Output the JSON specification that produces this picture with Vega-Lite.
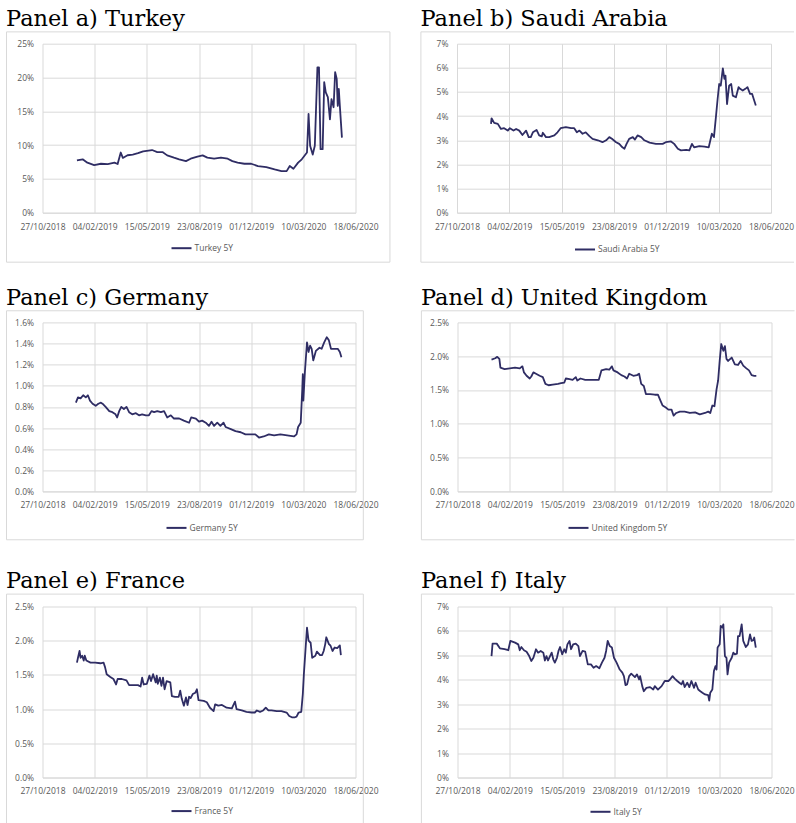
{
"$schema":"https://vega.github.io/schema/vega-lite/v6.json",
"padding":{"left":5.5,"top":7.7,"right":0,"bottom":0},
"background":"white",
"datasets":{
"tr":[
{"date":"2019-01-01","value":0.0774},{"date":"2019-01-12","value":0.079},{"date":"2019-01-21","value":0.074},{"date":"2019-02-03","value":0.0705},{"date":"2019-02-16","value":0.0724},{"date":"2019-03-01","value":0.072},{"date":"2019-03-14","value":0.074},{"date":"2019-03-20","value":0.072},{"date":"2019-03-26","value":0.089},{"date":"2019-03-30","value":0.081},{"date":"2019-04-08","value":0.085},{"date":"2019-04-18","value":0.086},{"date":"2019-04-28","value":0.088},{"date":"2019-05-08","value":0.0907},{"date":"2019-05-25","value":0.0927},{"date":"2019-06-04","value":0.0897},{"date":"2019-06-14","value":0.0897},{"date":"2019-06-23","value":0.0848},{"date":"2019-07-06","value":0.0814},{"date":"2019-07-16","value":0.079},{"date":"2019-07-29","value":0.0763},{"date":"2019-08-07","value":0.0799},{"date":"2019-08-20","value":0.0829},{"date":"2019-08-30","value":0.0848},{"date":"2019-09-08","value":0.0814},{"date":"2019-09-21","value":0.0799},{"date":"2019-10-04","value":0.0814},{"date":"2019-10-17","value":0.0799},{"date":"2019-10-26","value":0.0763},{"date":"2019-11-05","value":0.074},{"date":"2019-11-18","value":0.0724},{"date":"2019-12-01","value":0.0724},{"date":"2019-12-14","value":0.069},{"date":"2019-12-30","value":0.0674},{"date":"2020-01-15","value":0.064},{"date":"2020-01-28","value":0.0615},{"date":"2020-02-07","value":0.0615},{"date":"2020-02-13","value":0.069},{"date":"2020-02-20","value":0.065},{"date":"2020-02-29","value":0.074},{"date":"2020-03-07","value":0.079},{"date":"2020-03-17","value":0.089},{"date":"2020-03-20","value":0.146},{"date":"2020-03-23","value":0.099},{"date":"2020-03-28","value":0.086},{"date":"2020-04-01","value":0.099},{"date":"2020-04-06","value":0.215},{"date":"2020-04-09","value":0.215},{"date":"2020-04-12","value":0.094},{"date":"2020-04-16","value":0.094},{"date":"2020-04-19","value":0.193},{"date":"2020-04-22","value":0.178},{"date":"2020-04-26","value":0.171},{"date":"2020-04-30","value":0.138},{"date":"2020-05-03","value":0.168},{"date":"2020-05-07","value":0.156},{"date":"2020-05-10","value":0.208},{"date":"2020-05-13","value":0.198},{"date":"2020-05-15","value":0.158},{"date":"2020-05-17","value":0.183},{"date":"2020-05-19","value":0.158},{"date":"2020-05-23","value":0.111}
],
"sa":[
{"date":"2018-12-31","value":0.0368},{"date":"2019-01-01","value":0.0391},{"date":"2019-01-06","value":0.0372},{"date":"2019-01-13","value":0.0368},{"date":"2019-01-19","value":0.0347},{"date":"2019-01-25","value":0.035},{"date":"2019-02-01","value":0.034},{"date":"2019-02-05","value":0.035},{"date":"2019-02-12","value":0.034},{"date":"2019-02-17","value":0.0347},{"date":"2019-02-23","value":0.034},{"date":"2019-03-01","value":0.0322},{"date":"2019-03-08","value":0.034},{"date":"2019-03-13","value":0.0313},{"date":"2019-03-17","value":0.0313},{"date":"2019-03-21","value":0.0333},{"date":"2019-03-28","value":0.0343},{"date":"2019-04-02","value":0.032},{"date":"2019-04-07","value":0.0316},{"date":"2019-04-09","value":0.0331},{"date":"2019-04-15","value":0.0313},{"date":"2019-04-21","value":0.0313},{"date":"2019-05-01","value":0.032},{"date":"2019-05-07","value":0.0333},{"date":"2019-05-13","value":0.035},{"date":"2019-05-23","value":0.0354},{"date":"2019-06-02","value":0.035},{"date":"2019-06-08","value":0.035},{"date":"2019-06-13","value":0.0333},{"date":"2019-06-18","value":0.034},{"date":"2019-06-24","value":0.0327},{"date":"2019-06-30","value":0.0333},{"date":"2019-07-07","value":0.0317},{"date":"2019-07-13","value":0.0306},{"date":"2019-07-23","value":0.03},{"date":"2019-08-01","value":0.0292},{"date":"2019-08-08","value":0.03},{"date":"2019-08-14","value":0.0313},{"date":"2019-08-19","value":0.0306},{"date":"2019-08-27","value":0.0292},{"date":"2019-09-02","value":0.0285},{"date":"2019-09-08","value":0.0271},{"date":"2019-09-12","value":0.0265},{"date":"2019-09-16","value":0.0285},{"date":"2019-09-21","value":0.0306},{"date":"2019-09-28","value":0.0313},{"date":"2019-10-02","value":0.0303},{"date":"2019-10-07","value":0.032},{"date":"2019-10-14","value":0.0313},{"date":"2019-10-20","value":0.03},{"date":"2019-10-30","value":0.029},{"date":"2019-11-11","value":0.0285},{"date":"2019-11-24","value":0.0285},{"date":"2019-11-30","value":0.0292},{"date":"2019-12-10","value":0.0295},{"date":"2019-12-16","value":0.0285},{"date":"2019-12-23","value":0.0265},{"date":"2019-12-29","value":0.0258},{"date":"2020-01-08","value":0.026},{"date":"2020-01-14","value":0.0258},{"date":"2020-01-19","value":0.0285},{"date":"2020-01-23","value":0.0271},{"date":"2020-02-02","value":0.0276},{"date":"2020-02-12","value":0.0274},{"date":"2020-02-20","value":0.0271},{"date":"2020-02-26","value":0.0327},{"date":"2020-03-01","value":0.0313},{"date":"2020-03-05","value":0.0402},{"date":"2020-03-08","value":0.0471},{"date":"2020-03-11","value":0.0533},{"date":"2020-03-14","value":0.0526},{"date":"2020-03-18","value":0.0598},{"date":"2020-03-21","value":0.0554},{"date":"2020-03-23","value":0.0568},{"date":"2020-03-26","value":0.045},{"date":"2020-03-30","value":0.0526},{"date":"2020-04-03","value":0.0533},{"date":"2020-04-06","value":0.0485},{"date":"2020-04-12","value":0.0478},{"date":"2020-04-17","value":0.052},{"date":"2020-04-20","value":0.0513},{"date":"2020-04-25","value":0.0506},{"date":"2020-04-30","value":0.0513},{"date":"2020-05-04","value":0.052},{"date":"2020-05-09","value":0.0492},{"date":"2020-05-13","value":0.0492},{"date":"2020-05-16","value":0.0471},{"date":"2020-05-20","value":0.0444}
],
"de":[
{"date":"2018-12-30","value":0.0084},{"date":"2019-01-03","value":0.0089},{"date":"2019-01-08","value":0.0088},{"date":"2019-01-13","value":0.0091},{"date":"2019-01-18","value":0.0089},{"date":"2019-01-22","value":0.0091},{"date":"2019-01-26","value":0.0086},{"date":"2019-01-31","value":0.0083},{"date":"2019-02-06","value":0.0081},{"date":"2019-02-11","value":0.0083},{"date":"2019-02-16","value":0.0084},{"date":"2019-02-19","value":0.0083},{"date":"2019-02-25","value":0.008},{"date":"2019-03-04","value":0.0076},{"date":"2019-03-10","value":0.0075},{"date":"2019-03-16","value":0.0073},{"date":"2019-03-19","value":0.007},{"date":"2019-03-23","value":0.0076},{"date":"2019-03-27","value":0.008},{"date":"2019-04-01","value":0.0078},{"date":"2019-04-06","value":0.008},{"date":"2019-04-11","value":0.0075},{"date":"2019-04-17","value":0.0073},{"date":"2019-04-24","value":0.0074},{"date":"2019-04-30","value":0.0072},{"date":"2019-05-06","value":0.0073},{"date":"2019-05-13","value":0.0072},{"date":"2019-05-19","value":0.0072},{"date":"2019-05-24","value":0.0076},{"date":"2019-05-29","value":0.0075},{"date":"2019-06-04","value":0.0076},{"date":"2019-06-11","value":0.0075},{"date":"2019-06-17","value":0.0076},{"date":"2019-06-23","value":0.007},{"date":"2019-06-30","value":0.0072},{"date":"2019-07-06","value":0.0069},{"date":"2019-07-16","value":0.0069},{"date":"2019-07-25","value":0.0067},{"date":"2019-08-04","value":0.0065},{"date":"2019-08-08","value":0.007},{"date":"2019-08-17","value":0.0069},{"date":"2019-08-23","value":0.0066},{"date":"2019-08-29","value":0.0067},{"date":"2019-09-05","value":0.0065},{"date":"2019-09-11","value":0.0062},{"date":"2019-09-16","value":0.0066},{"date":"2019-09-21","value":0.0062},{"date":"2019-09-27","value":0.0065},{"date":"2019-10-03","value":0.0062},{"date":"2019-10-09","value":0.0065},{"date":"2019-10-13","value":0.0061},{"date":"2019-10-23","value":0.0059},{"date":"2019-11-01","value":0.0057},{"date":"2019-11-11","value":0.0056},{"date":"2019-11-20","value":0.0054},{"date":"2019-11-30","value":0.0054},{"date":"2019-12-09","value":0.0054},{"date":"2019-12-16","value":0.0051},{"date":"2019-12-25","value":0.0052},{"date":"2020-01-04","value":0.0054},{"date":"2020-01-14","value":0.0053},{"date":"2020-01-26","value":0.0054},{"date":"2020-02-08","value":0.0053},{"date":"2020-02-21","value":0.0052},{"date":"2020-02-26","value":0.0054},{"date":"2020-02-29","value":0.0061},{"date":"2020-03-05","value":0.0065},{"date":"2020-03-08","value":0.0097},{"date":"2020-03-09","value":0.0111},{"date":"2020-03-10","value":0.0086},{"date":"2020-03-13","value":0.0113},{"date":"2020-03-17","value":0.0141},{"date":"2020-03-20","value":0.0132},{"date":"2020-03-23","value":0.0138},{"date":"2020-03-26","value":0.0135},{"date":"2020-03-29","value":0.0124},{"date":"2020-04-03","value":0.0133},{"date":"2020-04-10","value":0.0136},{"date":"2020-04-14","value":0.0135},{"date":"2020-04-19","value":0.0141},{"date":"2020-04-24","value":0.0146},{"date":"2020-04-28","value":0.0143},{"date":"2020-05-02","value":0.0135},{"date":"2020-05-08","value":0.0135},{"date":"2020-05-15","value":0.0135},{"date":"2020-05-19","value":0.0132},{"date":"2020-05-22","value":0.0127}
],
"uk":[
{"date":"2018-12-31","value":0.0195},{"date":"2019-01-07","value":0.0197},{"date":"2019-01-11","value":0.0199},{"date":"2019-01-15","value":0.0196},{"date":"2019-01-17","value":0.0183},{"date":"2019-01-21","value":0.0182},{"date":"2019-01-25","value":0.0181},{"date":"2019-02-04","value":0.0182},{"date":"2019-02-14","value":0.0183},{"date":"2019-02-23","value":0.0182},{"date":"2019-02-28","value":0.0185},{"date":"2019-03-03","value":0.0176},{"date":"2019-03-08","value":0.0171},{"date":"2019-03-14","value":0.0167},{"date":"2019-03-17","value":0.017},{"date":"2019-03-21","value":0.0176},{"date":"2019-03-26","value":0.0174},{"date":"2019-04-02","value":0.0171},{"date":"2019-04-08","value":0.0169},{"date":"2019-04-13","value":0.0159},{"date":"2019-04-19","value":0.0157},{"date":"2019-04-27","value":0.0158},{"date":"2019-05-07","value":0.0159},{"date":"2019-05-13","value":0.016},{"date":"2019-05-19","value":0.0161},{"date":"2019-05-22","value":0.0167},{"date":"2019-05-29","value":0.0166},{"date":"2019-06-04","value":0.0165},{"date":"2019-06-10","value":0.0169},{"date":"2019-06-13","value":0.0164},{"date":"2019-06-19","value":0.0167},{"date":"2019-06-28","value":0.0165},{"date":"2019-07-08","value":0.0165},{"date":"2019-07-18","value":0.0165},{"date":"2019-07-24","value":0.0165},{"date":"2019-07-29","value":0.0179},{"date":"2019-08-07","value":0.0181},{"date":"2019-08-13","value":0.018},{"date":"2019-08-18","value":0.0185},{"date":"2019-08-21","value":0.0179},{"date":"2019-08-29","value":0.0176},{"date":"2019-09-05","value":0.0172},{"date":"2019-09-11","value":0.017},{"date":"2019-09-16","value":0.0167},{"date":"2019-09-20","value":0.0174},{"date":"2019-09-28","value":0.0171},{"date":"2019-10-05","value":0.0172},{"date":"2019-10-09","value":0.0174},{"date":"2019-10-13","value":0.0159},{"date":"2019-10-18","value":0.0156},{"date":"2019-10-22","value":0.0144},{"date":"2019-10-30","value":0.0144},{"date":"2019-11-08","value":0.0143},{"date":"2019-11-14","value":0.0143},{"date":"2019-11-19","value":0.0134},{"date":"2019-11-23","value":0.0127},{"date":"2019-11-29","value":0.0124},{"date":"2019-12-04","value":0.0121},{"date":"2019-12-10","value":0.0121},{"date":"2019-12-14","value":0.0112},{"date":"2019-12-19","value":0.0116},{"date":"2019-12-26","value":0.0118},{"date":"2020-01-04","value":0.0118},{"date":"2020-01-14","value":0.0116},{"date":"2020-01-24","value":0.0117},{"date":"2020-02-02","value":0.0114},{"date":"2020-02-12","value":0.0116},{"date":"2020-02-18","value":0.0118},{"date":"2020-02-22","value":0.0116},{"date":"2020-02-26","value":0.0127},{"date":"2020-03-01","value":0.0126},{"date":"2020-03-05","value":0.0151},{"date":"2020-03-08","value":0.0164},{"date":"2020-03-11","value":0.0193},{"date":"2020-03-14","value":0.0218},{"date":"2020-03-18","value":0.0208},{"date":"2020-03-21","value":0.0215},{"date":"2020-03-24","value":0.0196},{"date":"2020-03-27","value":0.0193},{"date":"2020-04-03","value":0.0198},{"date":"2020-04-09","value":0.0188},{"date":"2020-04-15","value":0.0187},{"date":"2020-04-20","value":0.0193},{"date":"2020-04-25","value":0.0186},{"date":"2020-05-01","value":0.0182},{"date":"2020-05-06","value":0.0179},{"date":"2020-05-11","value":0.0172},{"date":"2020-05-16","value":0.0171},{"date":"2020-05-20","value":0.0171}
],
"fr":[
{"date":"2019-01-01","value":0.0168},{"date":"2019-01-03","value":0.0175},{"date":"2019-01-06","value":0.0185},{"date":"2019-01-08","value":0.0175},{"date":"2019-01-11","value":0.0178},{"date":"2019-01-14","value":0.0171},{"date":"2019-01-16","value":0.0178},{"date":"2019-01-19","value":0.0171},{"date":"2019-01-27","value":0.0168},{"date":"2019-02-05","value":0.0168},{"date":"2019-02-15","value":0.0167},{"date":"2019-02-21","value":0.0168},{"date":"2019-02-24","value":0.0161},{"date":"2019-02-27","value":0.0151},{"date":"2019-03-06","value":0.0147},{"date":"2019-03-12","value":0.0144},{"date":"2019-03-17","value":0.0136},{"date":"2019-03-20","value":0.0144},{"date":"2019-03-28","value":0.0144},{"date":"2019-04-06","value":0.0142},{"date":"2019-04-11","value":0.0135},{"date":"2019-04-20","value":0.0135},{"date":"2019-04-28","value":0.0135},{"date":"2019-05-03","value":0.0133},{"date":"2019-05-06","value":0.0146},{"date":"2019-05-09","value":0.0136},{"date":"2019-05-15","value":0.0137},{"date":"2019-05-20","value":0.0149},{"date":"2019-05-23","value":0.0141},{"date":"2019-05-27","value":0.0151},{"date":"2019-06-01","value":0.0139},{"date":"2019-06-03","value":0.0149},{"date":"2019-06-05","value":0.0137},{"date":"2019-06-09","value":0.0146},{"date":"2019-06-12","value":0.0134},{"date":"2019-06-15","value":0.0146},{"date":"2019-06-18","value":0.0129},{"date":"2019-06-22","value":0.0141},{"date":"2019-06-29","value":0.0139},{"date":"2019-07-02","value":0.0119},{"date":"2019-07-08","value":0.0118},{"date":"2019-07-15","value":0.0118},{"date":"2019-07-18","value":0.0127},{"date":"2019-07-21","value":0.0115},{"date":"2019-07-25","value":0.0105},{"date":"2019-07-29","value":0.0117},{"date":"2019-08-01","value":0.0106},{"date":"2019-08-04","value":0.0118},{"date":"2019-08-07","value":0.0116},{"date":"2019-08-11","value":0.0122},{"date":"2019-08-16","value":0.0124},{"date":"2019-08-19","value":0.0129},{"date":"2019-08-22","value":0.0113},{"date":"2019-09-01","value":0.0112},{"date":"2019-09-07","value":0.011},{"date":"2019-09-13","value":0.0102},{"date":"2019-09-20","value":0.0097},{"date":"2019-09-23","value":0.0107},{"date":"2019-09-29","value":0.0105},{"date":"2019-10-06","value":0.0106},{"date":"2019-10-15","value":0.0102},{"date":"2019-10-25","value":0.0101},{"date":"2019-10-31","value":0.0111},{"date":"2019-11-03","value":0.01},{"date":"2019-11-13","value":0.0098},{"date":"2019-11-22","value":0.0096},{"date":"2019-12-02","value":0.0095},{"date":"2019-12-08","value":0.0095},{"date":"2019-12-12","value":0.0098},{"date":"2019-12-18","value":0.0096},{"date":"2019-12-24","value":0.0098},{"date":"2019-12-29","value":0.0102},{"date":"2020-01-03","value":0.0098},{"date":"2020-01-09","value":0.0098},{"date":"2020-01-19","value":0.0097},{"date":"2020-01-28","value":0.0097},{"date":"2020-02-07","value":0.0095},{"date":"2020-02-12","value":0.009},{"date":"2020-02-17","value":0.0088},{"date":"2020-02-23","value":0.0088},{"date":"2020-02-26","value":0.0089},{"date":"2020-03-01","value":0.0095},{"date":"2020-03-06","value":0.0096},{"date":"2020-03-09","value":0.0122},{"date":"2020-03-11","value":0.0151},{"date":"2020-03-14","value":0.0185},{"date":"2020-03-17","value":0.0219},{"date":"2020-03-20","value":0.02},{"date":"2020-03-24","value":0.0197},{"date":"2020-03-27","value":0.0175},{"date":"2020-04-02","value":0.0178},{"date":"2020-04-05","value":0.0184},{"date":"2020-04-11","value":0.0179},{"date":"2020-04-15","value":0.0179},{"date":"2020-04-18","value":0.0185},{"date":"2020-04-21","value":0.0195},{"date":"2020-04-23","value":0.0205},{"date":"2020-04-28","value":0.0195},{"date":"2020-05-01","value":0.0193},{"date":"2020-05-05","value":0.0185},{"date":"2020-05-09","value":0.019},{"date":"2020-05-14","value":0.0189},{"date":"2020-05-19","value":0.0193},{"date":"2020-05-21","value":0.0179}
],
"it":[
{"date":"2018-12-31","value":0.0497},{"date":"2019-01-02","value":0.0548},{"date":"2019-01-10","value":0.0548},{"date":"2019-01-16","value":0.0529},{"date":"2019-01-25","value":0.0525},{"date":"2019-02-01","value":0.0521},{"date":"2019-02-05","value":0.0559},{"date":"2019-02-14","value":0.0552},{"date":"2019-02-20","value":0.0545},{"date":"2019-02-23","value":0.0521},{"date":"2019-02-26","value":0.0534},{"date":"2019-03-03","value":0.0521},{"date":"2019-03-08","value":0.0515},{"date":"2019-03-13","value":0.0497},{"date":"2019-03-17","value":0.0477},{"date":"2019-03-21","value":0.049},{"date":"2019-03-26","value":0.0525},{"date":"2019-03-30","value":0.0511},{"date":"2019-04-04","value":0.0518},{"date":"2019-04-09","value":0.0511},{"date":"2019-04-12","value":0.0479},{"date":"2019-04-15","value":0.0497},{"date":"2019-04-18","value":0.0479},{"date":"2019-04-25","value":0.0511},{"date":"2019-04-28","value":0.0484},{"date":"2019-05-01","value":0.047},{"date":"2019-05-05","value":0.049},{"date":"2019-05-08","value":0.0518},{"date":"2019-05-11","value":0.0534},{"date":"2019-05-15","value":0.0504},{"date":"2019-05-19","value":0.0525},{"date":"2019-05-22","value":0.0511},{"date":"2019-05-25","value":0.0545},{"date":"2019-05-29","value":0.0559},{"date":"2019-06-01","value":0.0525},{"date":"2019-06-05","value":0.0545},{"date":"2019-06-10","value":0.0548},{"date":"2019-06-15","value":0.0538},{"date":"2019-06-18","value":0.0497},{"date":"2019-06-23","value":0.0518},{"date":"2019-06-28","value":0.0515},{"date":"2019-07-03","value":0.0463},{"date":"2019-07-09","value":0.0463},{"date":"2019-07-14","value":0.0449},{"date":"2019-07-19","value":0.0456},{"date":"2019-07-25","value":0.0447},{"date":"2019-07-30","value":0.047},{"date":"2019-08-04","value":0.049},{"date":"2019-08-07","value":0.0518},{"date":"2019-08-10","value":0.0559},{"date":"2019-08-14","value":0.0538},{"date":"2019-08-18","value":0.0532},{"date":"2019-08-22","value":0.049},{"date":"2019-08-27","value":0.047},{"date":"2019-09-02","value":0.0442},{"date":"2019-09-07","value":0.0429},{"date":"2019-09-10","value":0.0415},{"date":"2019-09-13","value":0.0378},{"date":"2019-09-16","value":0.0381},{"date":"2019-09-20","value":0.0415},{"date":"2019-09-24","value":0.0425},{"date":"2019-10-01","value":0.0411},{"date":"2019-10-05","value":0.0422},{"date":"2019-10-09","value":0.0401},{"date":"2019-10-11","value":0.0415},{"date":"2019-10-15","value":0.0374},{"date":"2019-10-18","value":0.0353},{"date":"2019-10-23","value":0.0367},{"date":"2019-10-30","value":0.037},{"date":"2019-11-05","value":0.036},{"date":"2019-11-08","value":0.0374},{"date":"2019-11-14","value":0.036},{"date":"2019-11-21","value":0.0374},{"date":"2019-11-27","value":0.0395},{"date":"2019-12-04","value":0.0395},{"date":"2019-12-07","value":0.0401},{"date":"2019-12-12","value":0.0415},{"date":"2019-12-16","value":0.0405},{"date":"2019-12-21","value":0.0395},{"date":"2019-12-25","value":0.0388},{"date":"2019-12-29","value":0.0381},{"date":"2020-01-01","value":0.0395},{"date":"2020-01-04","value":0.037},{"date":"2020-01-09","value":0.0388},{"date":"2020-01-13","value":0.037},{"date":"2020-01-17","value":0.0395},{"date":"2020-01-22","value":0.0367},{"date":"2020-01-25","value":0.0388},{"date":"2020-01-30","value":0.036},{"date":"2020-02-03","value":0.0353},{"date":"2020-02-07","value":0.0347},{"date":"2020-02-12","value":0.034},{"date":"2020-02-18","value":0.0337},{"date":"2020-02-20","value":0.0315},{"date":"2020-02-22","value":0.0347},{"date":"2020-02-26","value":0.036},{"date":"2020-02-29","value":0.0436},{"date":"2020-03-03","value":0.0456},{"date":"2020-03-05","value":0.0442},{"date":"2020-03-07","value":0.0532},{"date":"2020-03-11","value":0.0545},{"date":"2020-03-13","value":0.0621},{"date":"2020-03-16","value":0.0614},{"date":"2020-03-18","value":0.0627},{"date":"2020-03-21","value":0.0497},{"date":"2020-03-24","value":0.049},{"date":"2020-03-26","value":0.0422},{"date":"2020-03-29","value":0.047},{"date":"2020-04-03","value":0.049},{"date":"2020-04-06","value":0.0511},{"date":"2020-04-09","value":0.0504},{"date":"2020-04-13","value":0.0507},{"date":"2020-04-15","value":0.0579},{"date":"2020-04-18","value":0.0579},{"date":"2020-04-22","value":0.0627},{"date":"2020-04-25","value":0.0559},{"date":"2020-04-30","value":0.0534},{"date":"2020-05-04","value":0.0545},{"date":"2020-05-08","value":0.0586},{"date":"2020-05-11","value":0.0559},{"date":"2020-05-14","value":0.0562},{"date":"2020-05-16","value":0.0573},{"date":"2020-05-19","value":0.0532}
]
},
"resolve":{"scale":{"color":"independent"},"legend":{"color":"independent"}},
"spacing":23.7,
"vconcat":[
{
"resolve":{"scale":{"color":"independent"},"legend":{"color":"independent"}},
"spacing":29.5,
"hconcat":[
{
"title":"Panel a) Turkey",
"width":313,"height":169,
"layer":[
{"data":{"name":"tr"},"mark":{"type":"line","strokeWidth":1.8,"strokeJoin":"round"},
"encoding":{
"x":{"field":"date","type":"temporal","scale":{"type":"utc","domain":[{"year":2018,"month":10,"date":27,"utc":true},{"year":2020,"month":6,"date":18,"utc":true}]},"axis":{"title":null,"format":"%d/%m/%Y","tickCount":20,"values":[{"year":2018,"month":10,"date":27,"utc":true},{"year":2019,"month":2,"date":4,"utc":true},{"year":2019,"month":5,"date":15,"utc":true},{"year":2019,"month":8,"date":23,"utc":true},{"year":2019,"month":12,"date":1,"utc":true},{"year":2020,"month":3,"date":10,"utc":true},{"year":2020,"month":6,"date":18,"utc":true}]}},
"y":{"field":"value","type":"quantitative","scale":{"domain":[0,0.25],"nice":false},"axis":{"title":null,"format":".0%","tickCount":20,"labelOverlap":false,"values":[0,0.05,0.1,0.15,0.2,0.25]}},
"color":{"datum":"Turkey 5Y","type":"nominal","scale":{"range":["#2f2d64"]},"legend":{"title":null,"orient":"none","legendX":128,"legendY":193.5}}
}},
{"data":{"values":[{}]},"mark":{"type":"rect","filled":false,"stroke":"#d9d9d9","strokeWidth":1},
"encoding":{"x":{"datum":{"year":2018,"month":8,"date":19,"utc":true},"type":"temporal","scale":{"type":"utc","domain":[{"year":2018,"month":10,"date":27,"utc":true},{"year":2020,"month":6,"date":18,"utc":true}]}},"x2":{"datum":{"year":2020,"month":8,"date":23,"utc":true}},"y":{"datum":0.2675,"type":"quantitative","scale":{"domain":[0,0.25],"nice":false}},"y2":{"datum":-0.0732}}}
]
},
{
"title":"Panel b) Saudi Arabia",
"width":314,"height":169,
"layer":[
{"data":{"name":"sa"},"mark":{"type":"line","strokeWidth":1.8,"strokeJoin":"round"},
"encoding":{
"x":{"field":"date","type":"temporal","scale":{"type":"utc","domain":[{"year":2018,"month":10,"date":27,"utc":true},{"year":2020,"month":6,"date":18,"utc":true}]},"axis":{"title":null,"format":"%d/%m/%Y","tickCount":20,"values":[{"year":2018,"month":10,"date":27,"utc":true},{"year":2019,"month":2,"date":4,"utc":true},{"year":2019,"month":5,"date":15,"utc":true},{"year":2019,"month":8,"date":23,"utc":true},{"year":2019,"month":12,"date":1,"utc":true},{"year":2020,"month":3,"date":10,"utc":true},{"year":2020,"month":6,"date":18,"utc":true}]}},
"y":{"field":"value","type":"quantitative","scale":{"domain":[0,0.07],"nice":false},"axis":{"title":null,"format":".0%","tickCount":20,"labelOverlap":false,"values":[0,0.01,0.02,0.03,0.04,0.05,0.06,0.07]}},
"color":{"datum":"Saudi Arabia 5Y","type":"nominal","scale":{"range":["#2f2d64"]},"legend":{"title":null,"orient":"none","legendX":117,"legendY":194.8}}
}},
{"data":{"values":[{}]},"mark":{"type":"rule","stroke":"#d9d9d9","strokeWidth":1},
"encoding":{"x":{"datum":{"year":2018,"month":8,"date":19,"utc":true},"type":"temporal","scale":{"type":"utc","domain":[{"year":2018,"month":10,"date":27,"utc":true},{"year":2020,"month":6,"date":18,"utc":true}]}},"y":{"datum":0.0749,"type":"quantitative","scale":{"domain":[0,0.07],"nice":false}},"y2":{"datum":-0.0205}}},
{"data":{"values":[{}]},"mark":{"type":"rule","stroke":"#d9d9d9","strokeWidth":1},
"encoding":{"x":{"datum":{"year":2018,"month":8,"date":19,"utc":true},"type":"temporal","scale":{"type":"utc","domain":[{"year":2018,"month":10,"date":27,"utc":true},{"year":2020,"month":6,"date":18,"utc":true}]}},"x2":{"datum":{"year":2020,"month":8,"date":1,"utc":true}},"y":{"datum":0.0749,"type":"quantitative","scale":{"domain":[0,0.07],"nice":false}}}},
{"data":{"values":[{}]},"mark":{"type":"rule","stroke":"#d9d9d9","strokeWidth":1},
"encoding":{"x":{"datum":{"year":2018,"month":8,"date":19,"utc":true},"type":"temporal","scale":{"type":"utc","domain":[{"year":2018,"month":10,"date":27,"utc":true},{"year":2020,"month":6,"date":18,"utc":true}]}},"x2":{"datum":{"year":2020,"month":8,"date":1,"utc":true}},"y":{"datum":-0.0205,"type":"quantitative","scale":{"domain":[0,0.07],"nice":false}}}}
]
}
]
},
{
"resolve":{"scale":{"color":"independent"},"legend":{"color":"independent"}},
"spacing":29.1,
"vconcat":[
{
"resolve":{"scale":{"color":"independent"},"legend":{"color":"independent"}},
"spacing":42,
"hconcat":[
{
"title":"Panel c) Germany",
"width":313,"height":169,
"layer":[
{"data":{"name":"de"},"mark":{"type":"line","strokeWidth":1.8,"strokeJoin":"round"},
"encoding":{
"x":{"field":"date","type":"temporal","scale":{"type":"utc","domain":[{"year":2018,"month":10,"date":27,"utc":true},{"year":2020,"month":6,"date":18,"utc":true}]},"axis":{"title":null,"format":"%d/%m/%Y","tickCount":20,"values":[{"year":2018,"month":10,"date":27,"utc":true},{"year":2019,"month":2,"date":4,"utc":true},{"year":2019,"month":5,"date":15,"utc":true},{"year":2019,"month":8,"date":23,"utc":true},{"year":2019,"month":12,"date":1,"utc":true},{"year":2020,"month":3,"date":10,"utc":true},{"year":2020,"month":6,"date":18,"utc":true}]}},
"y":{"field":"value","type":"quantitative","scale":{"domain":[0,0.016],"nice":false},"axis":{"title":null,"format":".1%","tickCount":20,"labelOverlap":false,"values":[0,0.002,0.004,0.006,0.008,0.01,0.012,0.014,0.016]}},
"color":{"datum":"Germany 5Y","type":"nominal","scale":{"range":["#2f2d64"]},"legend":{"title":null,"orient":"none","legendX":123,"legendY":194.5}}
}},
{"data":{"values":[{}]},"mark":{"type":"rect","filled":false,"stroke":"#d9d9d9","strokeWidth":1},
"encoding":{"x":{"datum":{"year":2018,"month":8,"date":19,"utc":true},"type":"temporal","scale":{"type":"utc","domain":[{"year":2018,"month":10,"date":27,"utc":true},{"year":2020,"month":6,"date":18,"utc":true}]}},"x2":{"datum":{"year":2020,"month":7,"date":3,"utc":true}},"y":{"datum":0.0171,"type":"quantitative","scale":{"domain":[0,0.016],"nice":false}},"y2":{"datum":-0.00458}}}
]
},
{
"title":"Panel d) United Kingdom",
"width":314,"height":169,
"layer":[
{"data":{"name":"uk"},"mark":{"type":"line","strokeWidth":1.8,"strokeJoin":"round"},
"encoding":{
"x":{"field":"date","type":"temporal","scale":{"type":"utc","domain":[{"year":2018,"month":10,"date":27,"utc":true},{"year":2020,"month":6,"date":18,"utc":true}]},"axis":{"title":null,"format":"%d/%m/%Y","tickCount":20,"values":[{"year":2018,"month":10,"date":27,"utc":true},{"year":2019,"month":2,"date":4,"utc":true},{"year":2019,"month":5,"date":15,"utc":true},{"year":2019,"month":8,"date":23,"utc":true},{"year":2019,"month":12,"date":1,"utc":true},{"year":2020,"month":3,"date":10,"utc":true},{"year":2020,"month":6,"date":18,"utc":true}]}},
"y":{"field":"value","type":"quantitative","scale":{"domain":[0,0.025],"nice":false},"axis":{"title":null,"format":".1%","tickCount":20,"labelOverlap":false,"values":[0,0.005,0.01,0.015,0.02,0.025]}},
"color":{"datum":"United Kingdom 5Y","type":"nominal","scale":{"range":["#2f2d64"]},"legend":{"title":null,"orient":"none","legendX":110,"legendY":194.5}}
}},
{"data":{"values":[{}]},"mark":{"type":"rule","stroke":"#d9d9d9","strokeWidth":1},
"encoding":{"x":{"datum":{"year":2018,"month":8,"date":19,"utc":true},"type":"temporal","scale":{"type":"utc","domain":[{"year":2018,"month":10,"date":27,"utc":true},{"year":2020,"month":6,"date":18,"utc":true}]}},"y":{"datum":0.026716,"type":"quantitative","scale":{"domain":[0,0.025],"nice":false}},"y2":{"datum":-0.00716}}},
{"data":{"values":[{}]},"mark":{"type":"rule","stroke":"#d9d9d9","strokeWidth":1},
"encoding":{"x":{"datum":{"year":2018,"month":8,"date":19,"utc":true},"type":"temporal","scale":{"type":"utc","domain":[{"year":2018,"month":10,"date":27,"utc":true},{"year":2020,"month":6,"date":18,"utc":true}]}},"x2":{"datum":{"year":2020,"month":8,"date":1,"utc":true}},"y":{"datum":0.026716,"type":"quantitative","scale":{"domain":[0,0.025],"nice":false}}}},
{"data":{"values":[{}]},"mark":{"type":"rule","stroke":"#d9d9d9","strokeWidth":1},
"encoding":{"x":{"datum":{"year":2018,"month":8,"date":19,"utc":true},"type":"temporal","scale":{"type":"utc","domain":[{"year":2018,"month":10,"date":27,"utc":true},{"year":2020,"month":6,"date":18,"utc":true}]}},"x2":{"datum":{"year":2020,"month":8,"date":1,"utc":true}},"y":{"datum":-0.00716,"type":"quantitative","scale":{"domain":[0,0.025],"nice":false}}}}
]
}
]
},
{
"resolve":{"scale":{"color":"independent"},"legend":{"color":"independent"}},
"spacing":42,
"hconcat":[
{
"title":"Panel e) France",
"width":313,"height":171,
"layer":[
{"data":{"name":"fr"},"mark":{"type":"line","strokeWidth":1.8,"strokeJoin":"round"},
"encoding":{
"x":{"field":"date","type":"temporal","scale":{"type":"utc","domain":[{"year":2018,"month":10,"date":27,"utc":true},{"year":2020,"month":6,"date":18,"utc":true}]},"axis":{"title":null,"format":"%d/%m/%Y","tickCount":20,"values":[{"year":2018,"month":10,"date":27,"utc":true},{"year":2019,"month":2,"date":4,"utc":true},{"year":2019,"month":5,"date":15,"utc":true},{"year":2019,"month":8,"date":23,"utc":true},{"year":2019,"month":12,"date":1,"utc":true},{"year":2020,"month":3,"date":10,"utc":true},{"year":2020,"month":6,"date":18,"utc":true}]}},
"y":{"field":"value","type":"quantitative","scale":{"domain":[0,0.025],"nice":false},"axis":{"title":null,"format":".1%","tickCount":20,"labelOverlap":false,"values":[0,0.005,0.01,0.015,0.02,0.025]}},
"color":{"datum":"France 5Y","type":"nominal","scale":{"range":["#2f2d64"]},"legend":{"title":null,"orient":"none","legendX":128,"legendY":193.6}}
}},
{"data":{"values":[{}]},"mark":{"type":"rule","stroke":"#d9d9d9","strokeWidth":1},
"encoding":{"x":{"datum":{"year":2018,"month":8,"date":19,"utc":true},"type":"temporal","scale":{"type":"utc","domain":[{"year":2018,"month":10,"date":27,"utc":true},{"year":2020,"month":6,"date":18,"utc":true}]}},"y":{"datum":0.02681,"type":"quantitative","scale":{"domain":[0,0.025],"nice":false}},"y2":{"datum":-0.0067}}},
{"data":{"values":[{}]},"mark":{"type":"rule","stroke":"#d9d9d9","strokeWidth":1},
"encoding":{"x":{"datum":{"year":2020,"month":7,"date":3,"utc":true},"type":"temporal","scale":{"type":"utc","domain":[{"year":2018,"month":10,"date":27,"utc":true},{"year":2020,"month":6,"date":18,"utc":true}]}},"y":{"datum":0.02681,"type":"quantitative","scale":{"domain":[0,0.025],"nice":false}},"y2":{"datum":-0.0067}}},
{"data":{"values":[{}]},"mark":{"type":"rule","stroke":"#d9d9d9","strokeWidth":1},
"encoding":{"x":{"datum":{"year":2018,"month":8,"date":19,"utc":true},"type":"temporal","scale":{"type":"utc","domain":[{"year":2018,"month":10,"date":27,"utc":true},{"year":2020,"month":6,"date":18,"utc":true}]}},"x2":{"datum":{"year":2020,"month":7,"date":3,"utc":true}},"y":{"datum":0.02681,"type":"quantitative","scale":{"domain":[0,0.025],"nice":false}}}}
]
},
{
"title":"Panel f) Italy",
"width":314,"height":171,
"layer":[
{"data":{"name":"it"},"mark":{"type":"line","strokeWidth":1.8,"strokeJoin":"round"},
"encoding":{
"x":{"field":"date","type":"temporal","scale":{"type":"utc","domain":[{"year":2018,"month":10,"date":27,"utc":true},{"year":2020,"month":6,"date":18,"utc":true}]},"axis":{"title":null,"format":"%d/%m/%Y","tickCount":20,"values":[{"year":2018,"month":10,"date":27,"utc":true},{"year":2019,"month":2,"date":4,"utc":true},{"year":2019,"month":5,"date":15,"utc":true},{"year":2019,"month":8,"date":23,"utc":true},{"year":2019,"month":12,"date":1,"utc":true},{"year":2020,"month":3,"date":10,"utc":true},{"year":2020,"month":6,"date":18,"utc":true}]}},
"y":{"field":"value","type":"quantitative","scale":{"domain":[0,0.07],"nice":false},"axis":{"title":null,"format":".0%","tickCount":20,"labelOverlap":false,"values":[0,0.01,0.02,0.03,0.04,0.05,0.06,0.07]}},
"color":{"datum":"Italy 5Y","type":"nominal","scale":{"range":["#2f2d64"]},"legend":{"title":null,"orient":"none","legendX":132,"legendY":194.3}}
}},
{"data":{"values":[{}]},"mark":{"type":"rule","stroke":"#d9d9d9","strokeWidth":1},
"encoding":{"x":{"datum":{"year":2018,"month":8,"date":19,"utc":true},"type":"temporal","scale":{"type":"utc","domain":[{"year":2018,"month":10,"date":27,"utc":true},{"year":2020,"month":6,"date":18,"utc":true}]}},"y":{"datum":0.07508,"type":"quantitative","scale":{"domain":[0,0.07],"nice":false}},"y2":{"datum":-0.01875}}},
{"data":{"values":[{}]},"mark":{"type":"rule","stroke":"#d9d9d9","strokeWidth":1},
"encoding":{"x":{"datum":{"year":2018,"month":8,"date":19,"utc":true},"type":"temporal","scale":{"type":"utc","domain":[{"year":2018,"month":10,"date":27,"utc":true},{"year":2020,"month":6,"date":18,"utc":true}]}},"x2":{"datum":{"year":2020,"month":8,"date":1,"utc":true}},"y":{"datum":0.07508,"type":"quantitative","scale":{"domain":[0,0.07],"nice":false}}}}
]
}
]
}
]
}
],
"config":{
"view":{"stroke":null},
"font":"Open Sans",
"title":{"font":"DejaVu Serif","fontSize":22.5,"fontWeight":"normal","anchor":"start","color":"#000000","offset":1},
"axis":{"labelFont":"Open Sans","labelFontSize":8.5,"labelColor":"#595959","ticks":false,"tickSize":0,"grid":true,"gridColor":"#d9d9d9","gridWidth":1,"domainColor":"#d9d9d9","domainWidth":1},
"axisX":{"labelPadding":9.5,"labelFlush":false,"labelOverlap":false,"labelBound":false},
"axisY":{"domain":false,"labelPadding":9,"labelOverlap":false},
"legend":{"symbolType":"stroke","symbolSize":400,"symbolStrokeWidth":2,"labelFont":"Open Sans","labelFontSize":8.5,"labelColor":"#595959","labelOffset":2,"padding":0}
}
}
